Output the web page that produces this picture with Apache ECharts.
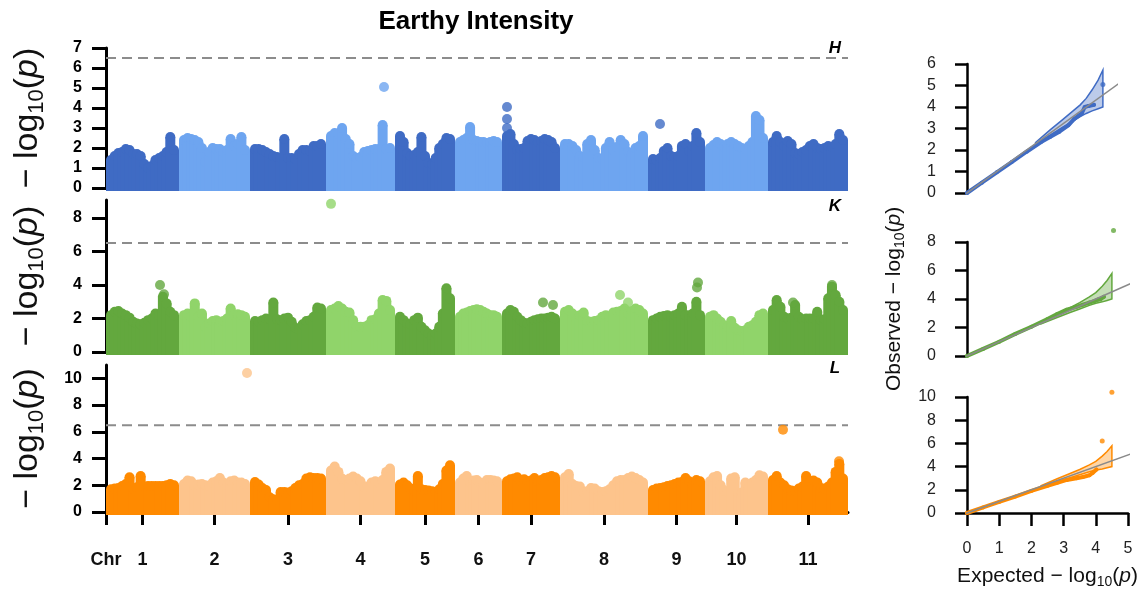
<!DOCTYPE html>
<html><head><meta charset="utf-8">
<script src="https://cdn.jsdelivr.net/npm/echarts@6/dist/echarts.min.js"></script>
<style>html,body{margin:0;padding:0;background:#fff}#c{width:1138px;height:591px}</style>
</head><body><div id="c"></div>
<script>
// ---------------- DATA ----------------
const chrNames = ['1','2','3','4','5','6','7','8','9','10','11'];
const chrLen = [73,71,76,69,60,47,58,88,57,63,80];
const threshold = 6.5;

// Upper profile of -log10(p) along each chromosome (evenly spaced along chromosome)
const hTop = [
  [1.4,1.6,1.75,1.8,1.95,1.9,1.7,1.7,1.6,1.2,1.0,1.1,1.4,1.5,1.6,1.8,2.55,1.9],
  [2.4,2.5,2.45,2.4,2.3,2.0,1.3,1.8,2.0,1.95,1.95,1.8,1.9,2.45,2.1,2.2,2.55,1.9],
  [1.95,1.95,1.9,1.8,1.7,1.6,1.55,1.5,2.45,1.5,1.5,1.45,1.7,1.9,1.9,1.85,2.1,2.1,2.2],
  [2.6,2.75,2.7,3.0,2.45,2.2,1.6,1.5,1.55,1.8,1.85,1.9,1.95,1.95,3.15,1.95,2.0],
  [2.6,2.3,1.75,1.6,1.65,1.8,2.55,1.6,1.25,1.2,1.5,2.0,2.2,2.5,2.45],
  [2.3,2.4,2.5,3.05,2.4,2.35,2.3,2.3,2.25,2.3,2.35,2.3],
  [2.6,2.7,2.2,1.9,1.95,2.0,2.35,2.45,2.4,2.3,2.35,2.45,2.4,2.3,2.0],
  [2.2,2.2,2.1,1.9,1.6,1.55,2.2,2.4,1.9,1.5,1.45,2.0,2.3,1.9,2.05,2.4,2.2,1.8,1.7,2.0,2.1,2.6],
  [1.45,1.4,1.5,1.85,2.0,1.6,1.55,1.6,2.1,2.2,1.85,2.1,2.75,2.3],
  [2.0,2.15,2.3,2.2,2.05,2.2,2.3,2.2,2.1,2.0,1.95,2.1,2.3,3.6,3.4,2.5],
  [2.3,2.6,2.3,2.1,2.35,2.2,1.75,1.7,1.8,1.9,2.1,2.2,2.0,1.95,2.0,2.1,2.05,2.2,2.7,2.4]
];
const kTop = [
  [2.2,2.4,2.45,2.3,2.2,2.05,1.8,1.7,1.65,1.75,1.9,2.0,2.3,2.2,3.3,2.9,2.4,2.2],
  [2.2,2.3,2.1,2.9,2.1,2.3,1.5,1.7,1.85,1.9,1.8,1.85,2.0,2.6,2.2,2.25,2.2,2.1],
  [1.85,1.8,1.9,2.0,1.95,2.95,1.95,1.9,2.0,2.05,1.8,1.45,1.35,1.65,1.85,1.9,2.1,2.65,2.6],
  [2.5,2.6,2.75,2.6,2.4,2.35,1.9,1.5,1.5,1.5,1.6,1.9,1.95,2.3,3.1,3.05,2.5],
  [2.1,1.9,1.7,1.65,1.9,2.05,1.5,1.3,1.1,1.0,1.1,1.5,2.3,3.8,3.2],
  [2.1,2.3,2.35,2.45,2.5,2.55,2.5,2.4,2.3,2.2,2.2,2.1],
  [2.3,2.5,2.4,2.1,1.9,1.75,1.7,1.8,1.9,1.95,2.0,2.0,2.05,2.1,2.0],
  [2.4,2.5,2.3,1.9,2.2,2.35,1.85,1.8,1.85,1.9,2.1,2.2,2.1,2.35,2.4,2.45,2.6,2.3,2.45,2.6,2.5,2.3],
  [1.9,2.0,2.1,2.15,2.2,2.1,2.2,2.3,2.7,2.2,2.2,2.3,3.0,2.2],
  [2.1,2.2,2.0,1.8,1.6,1.5,1.85,1.45,1.3,1.25,1.3,1.5,1.6,1.8,2.2,2.3],
  [2.5,3.1,2.7,2.1,2.0,2.05,2.8,2.1,1.95,2.0,2.0,2.0,2.4,1.9,1.95,3.2,3.9,3.4,3.0,2.5]
];
const lTop = [
  [1.7,1.75,1.8,1.95,2.1,2.6,1.7,1.85,2.7,1.9,1.95,1.95,1.95,1.95,1.95,2.0,2.1,2.0],
  [2.1,2.35,2.3,1.95,2.05,2.1,2.0,1.95,2.2,2.3,2.55,2.2,2.0,2.3,2.35,2.2,2.2,2.1],
  [2.25,2.05,1.8,1.65,1.1,0.95,0.9,1.5,1.5,1.45,1.55,1.8,2.0,2.1,2.5,2.6,2.55,2.55,2.5],
  [3.1,3.4,3.0,2.5,2.4,2.5,2.65,2.5,2.3,1.85,1.9,2.2,2.3,2.2,2.4,3.0,3.25],
  [2.05,2.2,2.0,1.75,1.6,2.7,1.7,1.65,1.6,1.55,1.5,1.7,2.1,3.1,3.5],
  [2.2,2.5,2.7,2.25,2.35,2.4,2.2,2.05,2.4,2.4,2.35,2.3],
  [2.3,2.45,2.5,2.6,2.35,2.45,2.3,2.35,2.55,2.3,2.4,2.55,2.6,2.7,2.6],
  [2.6,2.85,2.1,1.95,1.9,1.5,1.55,1.8,1.75,1.55,1.5,1.55,1.7,2.0,2.3,2.4,2.4,2.55,2.65,2.55,2.4,2.2],
  [1.65,1.75,1.8,1.85,1.95,2.0,2.1,2.2,2.25,2.55,2.3,2.1,2.4,2.3],
  [2.3,2.6,2.7,2.0,1.6,1.5,2.5,2.6,1.4,1.45,2.2,1.9,2.2,2.4,2.75,2.65],
  [2.4,2.7,2.2,2.0,1.7,1.6,1.55,1.75,1.9,2.7,2.3,2.35,2.2,1.8,1.75,1.9,2.2,3.0,3.6,2.5]
];
// isolated SNPs: [chromosome, position within chromosome, -log10(p)]
const hPeaks = [[4,58,5.05],[7,5,4.05],[7,5,3.45],[7,5,3.0],[9,12,3.2]];
const kPeaks = [[1,54,4.0],[1,58,3.45],[4,5,8.84],[7,41,2.95],[7,51,2.8],[8,60,3.4],[8,68,2.95],[9,50,4.15],[9,49,3.85],[11,25,2.95],[11,64,4.0]];
const lPeaks = [[2,68,10.4],[11,15,6.15],[11,71,3.8]];

// QQ plots: expected vs observed -log10(p)
const qq1Exp = [0,0.5,1.0,1.5,2.0,2.5,2.8,3.1,3.4,3.6,3.75,3.85,3.95,4.08,4.26];
const qq1Obs = [0,0.48,0.96,1.44,1.92,2.38,2.62,2.85,3.15,3.45,3.6,3.7,4.0,4.05,4.1];
const qq1Top = [[4.56,5.05]];
const qq2Exp = [0,0.5,1.0,1.5,2.0,2.5,2.8,3.1,3.4,3.6,3.8,3.95,4.05,4.15,4.25];
const qq2Obs = [0,0.5,1.0,1.55,2.05,2.6,2.95,3.25,3.45,3.6,3.75,3.85,3.95,4.0,4.15];
const qq2Top = [[4.55,8.8]];
const qq3Exp = [0,0.5,1.0,1.5,2.0,2.5,2.8,3.1,3.4,3.6,3.8,3.9,4.02];
const qq3Obs = [0,0.48,0.95,1.42,1.9,2.35,2.6,2.85,3.0,3.1,3.25,3.45,3.75];
const qq3Top = [[4.2,6.2],[4.5,10.4]];
// confidence bands
const band1X  = [2.3,2.8,3.2,3.5,3.8,4.0,4.2,4.4,4.56];
const band1Up = [2.35,2.95,3.4,3.75,4.1,4.4,4.8,5.25,5.72];
const band1Lo = [2.25,2.7,3.05,3.3,3.55,3.7,3.82,3.92,4.0];
const band2X  = [2.3,2.8,3.2,3.5,3.8,4.0,4.2,4.35,4.5];
const band2Up = [2.35,2.95,3.4,3.75,4.15,4.45,4.9,5.3,5.8];
const band2Lo = [2.25,2.7,3.05,3.3,3.55,3.7,3.8,3.9,4.0];
const diag = [-0.15,5.3];

// ---------------- STYLE ----------------
const FONT = '"Liberation Sans", Arial, Helvetica, sans-serif';
const blue = ['#3f6bc4','#6ea5f0'];
const green = ['#63a83e','#90d46a'];
const orange = ['#ff8a00','#fdc48c'];

const starts = []; let acc = 0;
chrLen.forEach(l => { starts.push(acc); acc += l; });
const total = acc;
const centers = chrLen.map((l,i) => starts[i] + l/2);

function massData(profile){
  const out = [];
  profile.forEach((vals,c) => {
    const n = vals.length, L = chrLen[c];
    vals.forEach((v,i) => out.push([starts[c] + 5 + i*(L-10)/(n-1), v, c%2]));
  });
  return out;
}
function peakData(peaks, colors){
  return peaks.map(([c,p,v]) => ({value:[starts[c-1]+p, v], itemStyle:{color: colors[(c-1)%2]}}));
}
function massRender(colors){
  return function(params, api){
    const x = api.value(0), y = api.value(1), ci = api.value(2);
    const p = api.coord([x,y]), p0 = api.coord([x,0]);
    const r = 5, col = colors[ci];
    return {type:'group', children:[
      {type:'rect', shape:{x:p[0]-r, y:p[1], width:2*r, height:p0[1]-p[1]+3}, style:{fill:col}},
      {type:'circle', shape:{cx:p[0], cy:p[1], r:r}, style:{fill:col}}
    ]};
  };
}
function bandRender(xs, up, lo, stroke, fill){
  return function(params, api){
    const pts = xs.map((x,i) => api.coord([x, up[i]]));
    for (let i = xs.length-1; i >= 0; i--) pts.push(api.coord([xs[i], lo[i]]));
    return {type:'polygon', shape:{points:pts}, style:{fill:fill, stroke:stroke, lineWidth:1.5}};
  };
}
const yName = {
  rich: {
    m:{fontSize:34, fontFamily:FONT, color:'#111', lineHeight:40, verticalAlign:'middle'},
    s:{fontSize:22, fontFamily:FONT, color:'#111', lineHeight:22, verticalAlign:'bottom'},
    i:{fontSize:34, fontFamily:FONT, color:'#111', fontStyle:'italic', lineHeight:40, verticalAlign:'middle'}
  }
};
const qqName = {
  rich: {
    m:{fontSize:21, fontFamily:FONT, color:'#111', lineHeight:25, verticalAlign:'middle'},
    s:{fontSize:14, fontFamily:FONT, color:'#111', lineHeight:14, verticalAlign:'bottom'},
    i:{fontSize:21, fontFamily:FONT, color:'#111', fontStyle:'italic', lineHeight:25, verticalAlign:'middle'}
  }
};
const manName = '{m|− log}{s|10}{m|(}{i|p}{m|)}';

function manY(gi, max, vals){
  return {gridIndex:gi, type:'value', min:0, max:max, offset:2,
    axisLine:{show:true, lineStyle:{color:'#000', width:3}},
    axisTick:{show:true, length:14, customValues:vals, lineStyle:{color:'#000', width:3}},
    axisLabel:{customValues:vals, fontSize:16, fontWeight:'bold', color:'#000', margin:22, fontFamily:FONT},
    splitLine:{show:false},
    name:manName, nameLocation:'middle', nameRotate:90, nameGap:56, nameTextStyle:yName};
}
function qqY(gi, max, interval, extra){
  return Object.assign({gridIndex:gi, type:'value', min:0, max:max, interval:interval, offset:7,
    axisLine:{show:true, lineStyle:{color:'#000', width:2.5}},
    axisTick:{show:true, length:12, lineStyle:{color:'#000', width:2.5}},
    axisLabel:{fontSize:16, color:'#222', margin:24, fontFamily:FONT},
    splitLine:{show:false}}, extra||{});
}
function hiddenX(gi, max){
  return {gridIndex:gi, type:'value', min:0, max:max, show:false, splitLine:{show:false}};
}
const tickVals = [0].concat(centers);

const grids = [
  {left:106, right:290, top:48, height:140},
  {left:106, right:290, top:200, height:152},
  {left:106, right:290, top:365, height:147},
  {left:967, right:22, top:64, height:129},
  {left:967, right:10, top:242, height:114},
  {left:967, right:10, top:397, height:116}
].map(g => Object.assign(g, {containLabel:false, outerBoundsMode:'none'}));

const xAxes = [
  hiddenX(0, total), hiddenX(1, total),
  {gridIndex:2, type:'value', min:0, max:total, offset:5,
    axisLine:{show:true, lineStyle:{color:'#000', width:3}},
    axisTick:{show:true, length:13, customValues:tickVals, lineStyle:{color:'#000', width:3}},
    axisLabel:{customValues:tickVals, fontSize:18, fontWeight:'bold', color:'#111', margin:34, fontFamily:FONT,
      formatter: v => { if (Math.abs(v) < 0.01) return 'Chr'; const i = centers.findIndex(c => Math.abs(c-v) < 0.01); return i >= 0 ? chrNames[i] : ''; }},
    splitLine:{show:false}},
  hiddenX(3, 5), hiddenX(4, 5),
  {gridIndex:5, type:'value', min:0, max:5, interval:1, offset:6,
    axisLine:{show:true, lineStyle:{color:'#000', width:2.5}},
    axisTick:{show:true, length:13, lineStyle:{color:'#000', width:2.5}},
    axisLabel:{fontSize:16, color:'#222', margin:22, fontFamily:FONT},
    splitLine:{show:false},
    name:'{m|Expected − log}{s|10}{m|(}{i|p}{m|)}', nameLocation:'middle', nameGap:45, nameTextStyle:qqName}
];
const yAxes = [
  manY(0, 7, [0,1,2,3,4,5,6,7]),
  manY(1, 9.07, [0,2,4,6,8]),
  manY(2, 11, [0,2,4,6,8,10]),
  qqY(3, 6, 1),
  qqY(4, 8, 2, {name:'{m|Observed − log}{s|10}{m|(}{i|p}{m|)}', nameLocation:'middle', nameRotate:90, nameGap:53, nameTextStyle:qqName}),
  qqY(5, 10, 2)
];

const series = [];
[[hTop,hPeaks,blue],[kTop,kPeaks,green],[lTop,lPeaks,orange]].forEach(([top,peaks,cols],gi) => {
  series.push({type:'line', xAxisIndex:gi, yAxisIndex:gi, data:[[0,threshold],[total,threshold]], symbol:'none', silent:true,
    lineStyle:{color:'#8c8c8c', width:2, type:[10,6]}, z:1});
  series.push({type:'custom', xAxisIndex:gi, yAxisIndex:gi, data:massData(top), encode:{x:0,y:1}, renderItem:massRender(cols), silent:true, clip:false, z:2});
  series.push({type:'scatter', xAxisIndex:gi, yAxisIndex:gi, data:peakData(peaks, cols), symbolSize:10, silent:true, clip:false, z:3});
});
[[qq1Exp,qq1Obs,qq1Top,band1X,band1Up,band1Lo,blue[0],'rgba(63,107,196,0.35)'],
 [qq2Exp,qq2Obs,qq2Top,band2X,band2Up,band2Lo,green[0],'rgba(99,168,62,0.38)'],
 [qq3Exp,qq3Obs,qq3Top,band2X,band2Up,band2Lo,orange[0],'rgba(255,138,0,0.35)']].forEach(([ex,ob,top,bx,bu,bl,col,fill],k) => {
  const gi = 3 + k;
  series.push({type:'custom', xAxisIndex:gi, yAxisIndex:gi, data:[[bx[0], bu[0]]], encode:{x:0,y:1}, renderItem:bandRender(bx,bu,bl,col,fill), silent:true, clip:false, z:1});
  series.push({type:'line', xAxisIndex:gi, yAxisIndex:gi, data:ex.map((x,i)=>[x, ob[i]]), symbol:'circle', symbolSize:4, showSymbol:true,
    itemStyle:{color:col}, lineStyle:{color:col, width:4, cap:'round'}, silent:true, z:2});
  series.push({type:'line', xAxisIndex:gi, yAxisIndex:gi, data:[[diag[0],diag[0]],[diag[1],diag[1]]], symbol:'none', clip:false, silent:true,
    lineStyle:{color:'#8a8a8a', width:1.5}, z:3});
  series.push({type:'scatter', xAxisIndex:gi, yAxisIndex:gi, data:top, symbolSize:5, itemStyle:{color:col}, silent:true, clip:false, z:4});
});

const chart = echarts.init(document.getElementById('c'), null, {renderer:'canvas'});
chart.setOption({
  animation:false,
  backgroundColor:'#fff',
  grid:grids, xAxis:xAxes, yAxis:yAxes, series:series,
  graphic:[
    {type:'text', x:476, y:22, style:{text:'Earthy Intensity', font:'bold 26px '+FONT, fill:'#000', textAlign:'center', textVerticalAlign:'middle'}},
    {type:'text', x:835, y:48, style:{text:'H', font:'italic bold 17px '+FONT, fill:'#000', textAlign:'center', textVerticalAlign:'middle'}},
    {type:'text', x:835, y:206, style:{text:'K', font:'italic bold 17px '+FONT, fill:'#000', textAlign:'center', textVerticalAlign:'middle'}},
    {type:'text', x:835, y:368, style:{text:'L', font:'italic bold 17px '+FONT, fill:'#000', textAlign:'center', textVerticalAlign:'middle'}}
  ]
});
</script></body></html>
